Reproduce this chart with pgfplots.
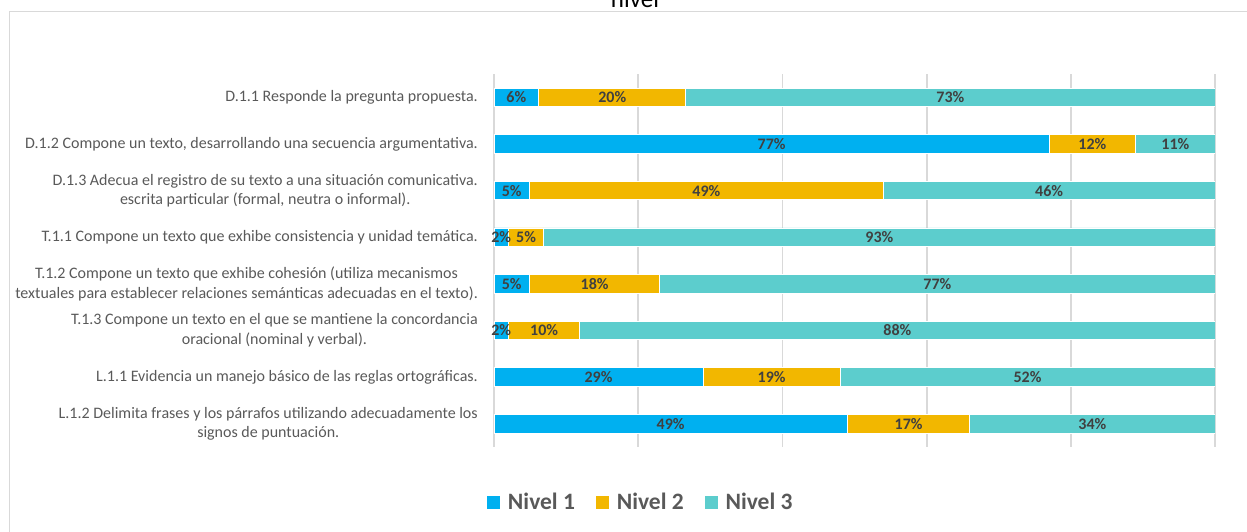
\documentclass[border=0pt]{standalone}
\usepackage{pgfplots}
\usepackage{pgfplotstable}
\pgfplotsset{compat=1.18}
\usepackage{fontspec}
\setmainfont{Carlito}

\definecolor{nivA}{HTML}{00B0F0}
\definecolor{nivB}{HTML}{F2B700}
\definecolor{nivC}{HTML}{5CCDCD}
\definecolor{gridg}{HTML}{D9D9D9}
\definecolor{labg}{HTML}{595959}
\definecolor{valg}{HTML}{404040}

% segment lengths (n1..n3) and printed labels (l1..l3)
\pgfplotstableread{
idx n1   n2   n3   l1 l2 l3
0   6.2  20.4 73.4 6  20 73
1   77.0 12.0 11.0 77 12 11
2   4.9  49.1 46.0 5  49 46
3   2.0  4.9  93.1 2  5  93
4   4.9  18.1 77.0 5  18 77
5   2.0  9.9  88.1 2  10 88
6   29.0 19.0 52.0 29 19 52
7   49.0 17.0 34.0 49 17 34
}\niveles

\begin{document}
\begin{tikzpicture}[x=1pt,y=1pt]
\path[use as bounding box] (0,0) rectangle (1247,531);
% chart frame (right and bottom edges fall outside the page)
\draw[gridg, line width=1.5pt] (9.5,-10) |- (1260,519.5);
\node[anchor=base, font=\fontsize{25}{30}\selectfont] at (635,523) {nivel};

\begin{axis}[
  at={(494pt,84pt)}, anchor=south west,
  scale only axis, width=721pt, height=373pt,
  xbar stacked, bar width=18.5pt,
  xmin=0, xmax=100, ymin=-0.5, ymax=7.5,
  y dir=reverse,
  axis line style={draw=none},
  xtick={0,20,...,100}, xticklabels={},
  xmajorgrids, grid style={gridg, line width=1.8pt},
  major tick length=0pt,
  ytick={0,...,7},
  yticklabels={
    {D.1.1 Responde la pregunta propuesta.},
    {D.1.2 Compone un texto, desarrollando una secuencia argumentativa.},
    {D.1.3 Adecua el registro de su texto a una situación comunicativa.\\escrita particular (formal, neutra o informal).},
    {T.1.1 Compone un texto que exhibe consistencia y unidad temática.},
    {T.1.2 Compone un texto que exhibe cohesión (utiliza mecanismos\\textuales para establecer relaciones semánticas adecuadas en el texto).},
    {T.1.3 Compone un texto en el que se mantiene la concordancia\\oracional (nominal y verbal).},
    {L.1.1 Evidencia un manejo básico de las reglas ortográficas.},
    {L.1.2 Delimita frases y los párrafos utilizando adecuadamente los\\signos de puntuación.}
  },
  yticklabel style={align=center, anchor=east, inner sep=0pt, xshift=-16pt,
    font=\fontsize{16}{19.5}\selectfont, text=labg},
  point meta=explicit,
  /pgf/number format/assume math mode=true,
  nodes near coords={\pgfmathprintnumber[fixed,precision=0]{\pgfplotspointmeta}\%},
  every node near coord/.append style={font=\bfseries\fontsize{16}{18}\selectfont, text=valg},
  legend columns=3,
  legend style={at={(0.203,-0.1475)}, anchor=center, draw=none, fill=none,
    font=\bfseries\fontsize{23.5}{26}\selectfont, text=labg,
    /tikz/every odd column/.append style={column sep=5pt},
    /tikz/every even column/.append style={column sep=18pt}},
  legend image code/.code={\fill[#1] (0pt,-7pt) rectangle (14pt,7pt);},
]
\addplot[fill=nivA, draw=white, line width=0.8pt] table[x=n1, y=idx, meta=l1] {\niveles};
\addplot[fill=nivB, draw=white, line width=0.8pt] table[x=n2, y=idx, meta=l2] {\niveles};
\addplot[fill=nivC, draw=white, line width=0.8pt] table[x=n3, y=idx, meta=l3] {\niveles};
\legend{Nivel 1, Nivel 2, Nivel 3}
\end{axis}
\end{tikzpicture}
\end{document}
